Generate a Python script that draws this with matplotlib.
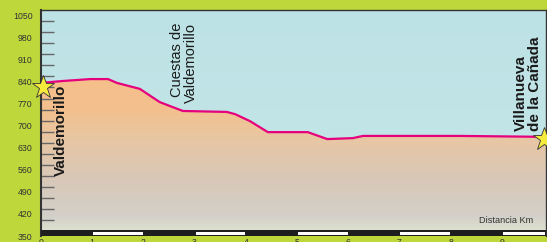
import numpy as np
import matplotlib
matplotlib.use("Agg")
import matplotlib.pyplot as plt
from matplotlib.colors import LinearSegmentedColormap
from matplotlib.patches import Rectangle
import matplotlib.transforms as mtransforms

# ---- data ----
dist_km = [0.0, 0.43, 0.96, 1.31, 1.48, 1.93, 2.32, 2.77, 3.63, 3.79, 4.08, 4.43,
           5.21, 5.59, 6.09, 6.29, 6.82, 8.18, 9.86]
elev_m = [835, 841, 847, 847, 835, 816, 774, 746, 743, 736, 714, 679,
          679, 657, 660, 667, 667, 667, 664]
y_labels = [350, 420, 490, 560, 630, 700, 770, 840, 910, 980, 1050]
x_labels = [0, 1, 2, 3, 4, 5, 6, 7, 8, 9]
start_name = "Valdemorillo"
mid_name = "Cuestas de\nValdemorillo"
mid_km = 2.8
end_name = "Villanueva\nde la Cañada"
axis_title = "Distancia Km"

W, H = 547, 242
GREEN = "#bed73b"
PINK = "#e5007d"
FONT = ["Liberation Sans", "DejaVu Sans"]
plt.rcParams["font.family"] = FONT

fig = plt.figure(figsize=(W / 100, H / 100), dpi=100, facecolor=GREEN)
x0, x1, ytop, ybot = 41, 546, 10, 236
ax = fig.add_axes([x0 / W, (H - ybot) / H, (x1 - x0) / W, (ybot - ytop) / H])
xmax = (x1 - x0) / 51.2
ymin, ymax = 350, 350 + (ybot - ytop) * 700 / 221
ax.set_xlim(0, xmax)
ax.set_ylim(ymin, ymax)

# sky gradient
sky = LinearSegmentedColormap.from_list("sky", [(0, "#ffffff"), (0.45, "#c2e5e7"), (1, "#bde2e5")])
grad = np.linspace(1, 0, 256).reshape(-1, 1)
ax.imshow(grad, extent=[0, xmax, ymin, ymax], aspect="auto", cmap=sky, zorder=0, origin="upper")

# terrain gradient, clipped to fill
terr = LinearSegmentedColormap.from_list(
    "terr", [(0, "#dfe7cf"), (0.12, "#d3d0c9"), (0.35, "#d8c8b8"), (0.6, "#e8c6a3"), (0.78, "#f3c08e"), (1, "#f6bf8a")])
poly = ax.fill_between(dist_km, elev_m, ymin, color="none", zorder=1)
g2 = np.linspace(0, 1, 256).reshape(-1, 1)
im = ax.imshow(g2, extent=[0, xmax, ymin, 860], aspect="auto", cmap=terr, zorder=1, origin="lower")
im.set_clip_path(poly.get_paths()[0], transform=ax.transData)

ax.plot(dist_km, elev_m, color=PINK, lw=1.6, zorder=3, solid_joinstyle="round")

# bottom km bar
ax.add_patch(Rectangle((0, ymin), xmax, 19, facecolor="#1e1e1e", edgecolor="none", zorder=4))
for k in x_labels[1::2]:
    ax.add_patch(Rectangle((k + 0.02, ymin + 3.5), min(0.97, xmax - k - 0.03), 9.5,
                           facecolor="white", edgecolor="none", zorder=5))

# spines
for s in ["left", "top", "right"]:
    ax.spines[s].set_color("#333333")
ax.spines["left"].set_linewidth(1.5)
ax.spines["top"].set_linewidth(1.0)
ax.spines["right"].set_linewidth(1.0)
ax.spines["bottom"].set_visible(False)

# ticks
ax.set_yticks(y_labels)
ax.set_yticklabels([str(v) for v in y_labels], fontsize=6.3, color="#333333")
ax.tick_params(axis="y", which="major", length=0, pad=6)
ax.set_yticks([400.5 + 35 * k for k in range(19)], minor=True)
ax.tick_params(axis="y", which="minor", direction="in", length=9.5, width=1.0, color="#666666")
ax.set_xticks(x_labels)
ax.set_xticklabels([str(v) for v in x_labels], fontsize=6.3, color="#333333")
ax.tick_params(axis="x", length=0, pad=1.5)

# labels
ax.text(0.39, 686, start_name, rotation=90, fontsize=11, fontweight="bold",
        ha="center", va="center", color="#1a1a1a", zorder=6)
ax.text(mid_km, 1025, mid_name, rotation=90, fontsize=10.5, ha="center", va="top",
        multialignment="right", color="#1a1a1a", linespacing=1.0, zorder=6)
ax.text(9.51, 681, end_name, rotation=90, fontsize=11, fontweight="bold",
        ha="center", va="bottom", multialignment="left", color="#1a1a1a", linespacing=1.0, zorder=6)
ax.text(9.09, 400, axis_title, fontsize=6.6, ha="center", va="center", color="#333333", zorder=6)

# stars at ends
off = mtransforms.ScaledTranslation(2 / 100, -4 / 100, fig.dpi_scale_trans)
ax.plot([dist_km[0]], [elev_m[0]], marker="*", ms=17, mfc="#f4ea3c", mec="#333333", mew=0.6,
        clip_on=False, zorder=7, transform=ax.transData + off)
off2 = mtransforms.ScaledTranslation(-2 / 100, -2 / 100, fig.dpi_scale_trans)
ax.plot([dist_km[-1]], [elev_m[-1]], marker="*", ms=17, mfc="#f4ea3c", mec="#333333", mew=0.6,
        clip_on=False, zorder=7, transform=ax.transData + off2)

fig.savefig("out.png", dpi=100, facecolor=GREEN)
